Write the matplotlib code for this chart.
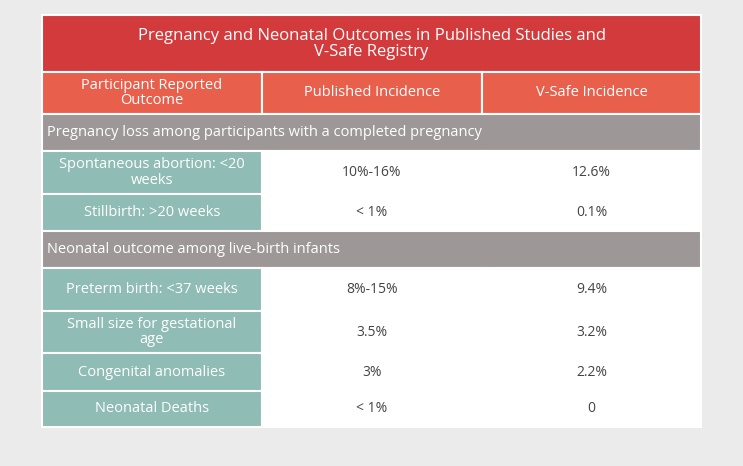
import matplotlib.pyplot as plt
from matplotlib.patches import Rectangle

title = "Pregnancy and Neonatal Outcomes in Published Studies and\nV-Safe Registry"
headers = ["Participant Reported\nOutcome", "Published Incidence", "V-Safe Incidence"]
section1 = "Pregnancy loss among participants with a completed pregnancy"
section2 = "Neonatal outcome among live-birth infants"
outcomes1 = ["Spontaneous abortion: <20\nweeks", "Stillbirth: >20 weeks"]
published1 = ["10%-16%", "< 1%"]
vsafe1 = ["12.6%", "0.1%"]
outcomes2 = ["Preterm birth: <37 weeks", "Small size for gestational\nage", "Congenital anomalies", "Neonatal Deaths"]
published2 = ["8%-15%", "3.5%", "3%", "< 1%"]
vsafe2 = ["9.4%", "3.2%", "2.2%", "0"]

plt.rcParams['font.family'] = ['Open Sans', 'DejaVu Sans']
fig = plt.figure(figsize=(7.43, 4.66), dpi=100)
fig.patch.set_facecolor('#ebebeb')
ax = fig.add_axes([0, 0, 1, 1])
ax.set_xlim(0, 743)
ax.set_ylim(466, 0)
ax.axis('off')

x0, x1, x2, x3 = 42, 262, 482, 701
red, salmon, grey, teal = '#d23a3c', '#e8604c', '#9d9897', '#8fbcb5'
txt_dark = '#444444'

def cell(x, y, w, h, fc, text, tc, ha='center', size=10.5):
    ax.add_patch(Rectangle((x, y), w, h, facecolor=fc, edgecolor='white', lw=1.5))
    tx = x + w / 2 if ha == 'center' else x + 5
    ax.text(tx, y + h / 2, text, ha=ha, va='center', color=tc, fontsize=size, linespacing=1.0)

cell(x0, 15, x3 - x0, 57, red, title, 'white', size=12)
for (xa, xb), h in zip([(x0, x1), (x1, x2), (x2, x3)], headers):
    cell(xa, 72, xb - xa, 42, salmon, h, 'white')

def block(ytop, section, outs, pubs, vs, heights):
    cell(x0, ytop, x3 - x0, 37, grey, section, 'white', ha='left')
    y = ytop + 37
    for o, p, v, h in zip(outs, pubs, vs, heights):
        cell(x0, y, x1 - x0, h, teal, o, 'white')
        cell(x1, y, x2 - x1, h, 'white', p, txt_dark, size=10)
        cell(x2, y, x3 - x2, h, 'white', v, txt_dark, size=10)
        y += h
    return y

y = block(114, section1, outcomes1, published1, vsafe1, [43, 37])
block(y, section2, outcomes2, published2, vsafe2, [43, 42, 38, 36])
fig.savefig('out.png', dpi=100, facecolor=fig.get_facecolor())
